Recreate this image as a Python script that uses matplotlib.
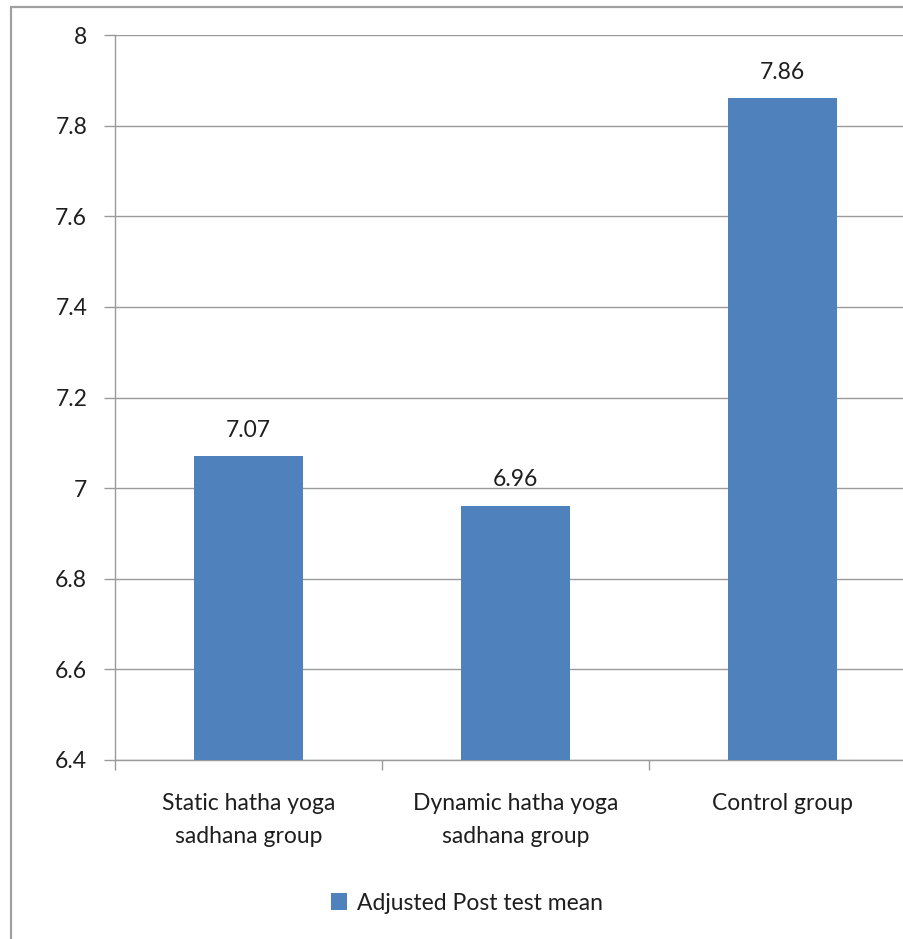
import matplotlib
matplotlib.use("Agg")
import matplotlib.pyplot as plt
from matplotlib.patches import Rectangle, Patch
import numpy as np

categories = ["Static hatha yoga\nsadhana group",
              "Dynamic hatha yoga\nsadhana group",
              "Control group"]
values = [7.07, 6.96, 7.86]
value_labels = ["7.07", "6.96", "7.86"]
y_ticks = [6.4, 6.6, 6.8, 7.0, 7.2, 7.4, 7.6, 7.8, 8.0]
y_tick_labels = ["6.4", "6.6", "6.8", "7", "7.2", "7.4", "7.6", "7.8", "8"]
series_name = "Adjusted Post test mean"

plt.rcParams["font.family"] = ["Lato", "DejaVu Sans"]

W, H = 904, 939
fig = plt.figure(figsize=(W / 100, H / 100), dpi=100)

grid_col = "#9a9a9a"
bar_col = "#4F81BD"
text_col = "#1e1e1e"
fs = 16.5

# outer chart-area frame (open on right and bottom)
fig.add_artist(Rectangle((11 / W, -0.05), 1.1, 1 - 7 / H + 0.05,
                         transform=fig.transFigure, fill=False,
                         edgecolor="#a0a0a0", linewidth=1.6))

left, right = 115 / W, 916 / W
bottom, top = 1 - 760 / H, 1 - 35 / H
ax = fig.add_axes([left, bottom, right - left, top - bottom])

x = np.arange(len(categories))
ax.bar(x, values, width=0.405, color=bar_col, zorder=3)
ax.set_xlim(-0.5, len(categories) - 0.5)
ax.set_ylim(6.4, 8.0)

ax.set_yticks(y_ticks)
ax.set_yticklabels(y_tick_labels, fontsize=fs, color=text_col)
ax.yaxis.grid(True, color=grid_col, linewidth=1.0, zorder=0)
ax.tick_params(axis="y", length=8, width=1.0, color=grid_col, pad=12)

# category labels between boundary ticks
ax.set_xticks(x)
ax.set_xticklabels(categories, fontsize=fs, color=text_col, linespacing=1.68)
ax.tick_params(axis="x", length=0, pad=24)
ax.set_xticks(np.arange(-0.5, len(categories) + 0.5, 1.0), minor=True)
ax.tick_params(axis="x", which="minor", length=7, width=1.0, color=grid_col)

for s in ["top", "right"]:
    ax.spines[s].set_visible(False)
for s in ["left", "bottom"]:
    ax.spines[s].set_color(grid_col)
    ax.spines[s].set_linewidth(1.0)

for xi, v, lab in zip(x, values, value_labels):
    ax.annotate(lab, (xi, v), xytext=(0, 19), textcoords="offset points",
                ha="center", va="center", fontsize=fs, color=text_col)

handle = Patch(facecolor=bar_col, edgecolor="none")
fig.legend([handle], [series_name], loc="center", bbox_to_anchor=(467 / W, 1 - 903 / H),
           frameon=False, fontsize=fs, handlelength=0.7, handleheight=0.7,
           handletextpad=0.4, labelcolor=text_col)

fig.savefig("out.png", dpi=100)
